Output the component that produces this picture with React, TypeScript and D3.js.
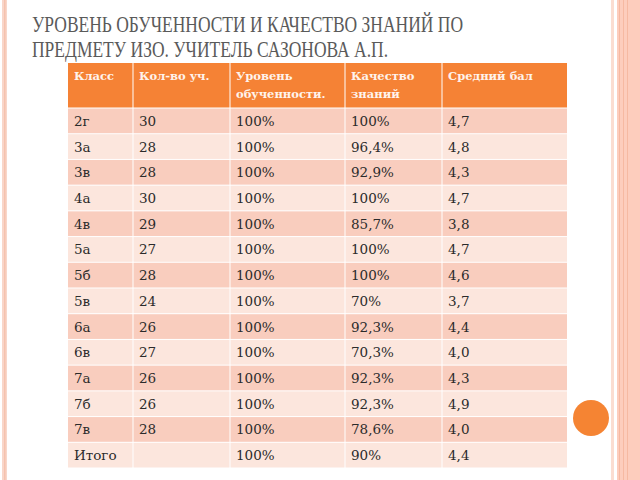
import React from "react";
import * as d3 from "d3";

const titleLines = [
  "УРОВЕНЬ ОБУЧЕННОСТИ И КАЧЕСТВО ЗНАНИЙ ПО",
  "ПРЕДМЕТУ ИЗО. УЧИТЕЛЬ САЗОНОВА А.П.",
];
const headers = [["Класс"], ["Кол-во уч."], ["Уровень", "обученности."], ["Качество", "знаний"], ["Средний бал"]];
const classes = ["2г", "3а", "3в", "4а", "4в", "5а", "5б", "5в", "6а", "6в", "7а", "7б", "7в", "Итого"];
const counts = ["30", "28", "28", "30", "29", "27", "28", "24", "26", "27", "26", "26", "28", ""];
const levels = ["100%", "100%", "100%", "100%", "100%", "100%", "100%", "100%", "100%", "100%", "100%", "100%", "100%", "100%"];
const quality = ["100%", "96,4%", "92,9%", "100%", "85,7%", "100%", "100%", "70%", "92,3%", "70,3%", "92,3%", "92,3%", "78,6%", "90%"];
const avg = ["4,7", "4,8", "4,3", "4,7", "3,8", "4,7", "4,6", "3,7", "4,4", "4,0", "4,3", "4,9", "4,0", "4,4"];

const W = 640, H = 480;
const colEdges = [68, 133, 230, 345, 442, 567];
const tableTop = 63, headerBottom = 108, tableBottom = 468;

export default function App() {
  const columns = [classes, counts, levels, quality, avg];
  const y = d3.scaleBand<number>().domain(d3.range(classes.length)).range([headerBottom, tableBottom]).paddingInner(0);
  const gap = 1;
  return (
    <svg width={W} height={H} style={{ position: "absolute", left: 0, top: 0, background: "#fff" }}>
      <rect x={0} y={0} width={W} height={H} fill="#fff" />
      {/* left decoration */}
      <rect x={2} y={0} width={5} height={H} fill="#F9D6C9" />
      <rect x={4} y={0} width={1.5} height={H} fill="#F5C2AE" />
      {/* right decoration */}
      <rect x={611} y={0} width={3} height={H} fill="#FBDDD1" />
      <rect x={617} y={0} width={23} height={H} fill="#FDCDBD" />
      {[619.5, 623.5, 627.5].map((x) => (
        <line key={x} x1={x} x2={x} y1={0} y2={H} stroke="#F6B9A2" strokeWidth={1} />
      ))}
      <circle cx={591} cy={418} r={18} fill="#F58433" />
      {/* title */}
      {titleLines.map((t, i) => (
        <text key={i} x={32} y={31.5 + i * 25} fontFamily="Liberation Serif" fontSize={22.5} fill="#5A5A5A"
          textLength={i === 0 ? 431 : 356} lengthAdjust="spacingAndGlyphs">{t}</text>
      ))}
      {/* header */}
      {headers.map((h, c) => (
        <g key={c}>
          <rect x={colEdges[c] + (c ? gap / 2 : 0)} y={tableTop} width={colEdges[c + 1] - colEdges[c] - (c ? gap / 2 : 0) - (c < 4 ? gap / 2 : 0)}
            height={headerBottom - tableTop - gap / 2} fill="#F58235" />
          {h.map((line, k) => (
            <text key={k} x={colEdges[c] + 6} y={80 + k * 18} fontFamily="DejaVu Serif" fontWeight="bold" fontSize={11.5} fill="#FFF3EC">{line}</text>
          ))}
        </g>
      ))}
      {/* body */}
      {classes.map((_, r) => (
        <g key={r}>
          {columns.map((col, c) => (
            <g key={c}>
              <rect x={colEdges[c] + (c ? gap / 2 : 0)} y={(y(r) as number) + gap / 2}
                width={colEdges[c + 1] - colEdges[c] - (c ? gap / 2 : 0) - (c < 4 ? gap / 2 : 0)}
                height={y.bandwidth() - gap} fill={r % 2 === 0 ? "#F9CDBE" : "#FCE6DD"} />
              <text x={colEdges[c] + 6} y={(y(r) as number) + y.bandwidth() / 2 + 5} fontFamily="DejaVu Serif" fontSize={13.5} fill="#2B2B2B">{col[r]}</text>
            </g>
          ))}
        </g>
      ))}
    </svg>
  );
}
